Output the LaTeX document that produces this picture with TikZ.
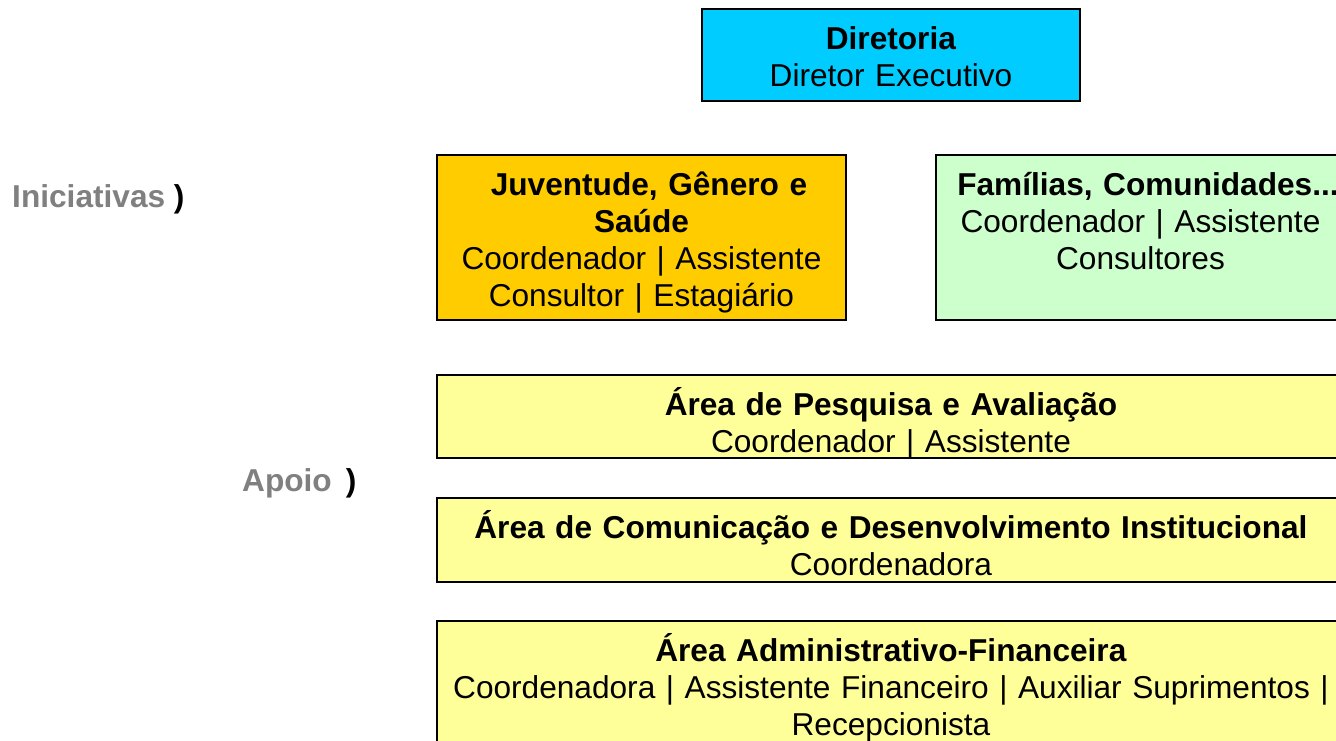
\documentclass[tikz,border=0pt]{standalone}
\usepackage{fontspec}
\setmainfont{Liberation Sans}
\usepackage{xcolor}
\usepackage{tikz}
\usetikzlibrary{positioning}

\definecolor{diretoria}{HTML}{00CCFF}
\definecolor{juventude}{HTML}{FFCC00}
\definecolor{familias}{HTML}{CCFFCC}
\definecolor{apoio}{HTML}{FFFF99}
\definecolor{labelgray}{HTML}{808080}

\begin{document}
\begin{tikzpicture}
	[unit/.style={draw,line width=1.1pt,inner sep=0pt,anchor=north west,align=center,
		font=\fontsize{18}{21}\selectfont,text height=0.82cm},
	grouplabel/.style={anchor=base west,font=\fontsize{18}{21}\selectfont\bfseries}]
	\useasboundingbox (0,0) rectangle (26.72,-14.82);
	\node[unit,fill=diretoria,text width=7.56cm,text depth=1.02cm] (dir) at (14.02,-0.16)
		{\textbf{Diretoria}\\Diretor Executivo};
	\node[unit,fill=juventude,text width=8.18cm,text depth=2.48cm] (jgs) at (8.72,-3.08)
		{\hspace*{0.3cm}\textbf{Juventude, Gênero e}\\\textbf{Saúde}\\Coordenador | Assistente\\Consultor | Estagiário};
	\node[unit,fill=familias,text width=8.18cm,text depth=2.48cm] (fam) at (18.70,-3.08)
		{\hspace*{0.3cm}\textbf{Famílias, Comunidades...}\\Coordenador | Assistente\\Consultores};
	\node[unit,fill=apoio,text width=18.16cm,text depth=0.84cm] (pesq) at (8.72,-7.48)
		{\textbf{Área de Pesquisa e Avaliação}\\Coordenador | Assistente};
	\node[unit,fill=apoio,text width=18.16cm,text depth=0.86cm] (com) at (8.72,-9.94)
		{\textbf{Área de Comunicação e Desenvolvimento Institucional}\\Coordenadora};
	\node[unit,fill=apoio,text width=18.16cm,text depth=2.48cm] (adm) at (8.72,-12.40)
		{\textbf{Área Administrativo-Financeira}\\Coordenadora | Assistente Financeiro | Auxiliar Suprimentos |\\Recepcionista};
	\node[grouplabel] (ini) at (0.12,-4.16) {\textcolor{labelgray}{Iniciativas} )};
	\node[grouplabel] (apo) at (4.72,-9.84) {\textcolor{labelgray}{Apoio}~\,)};
\end{tikzpicture}
\end{document}
